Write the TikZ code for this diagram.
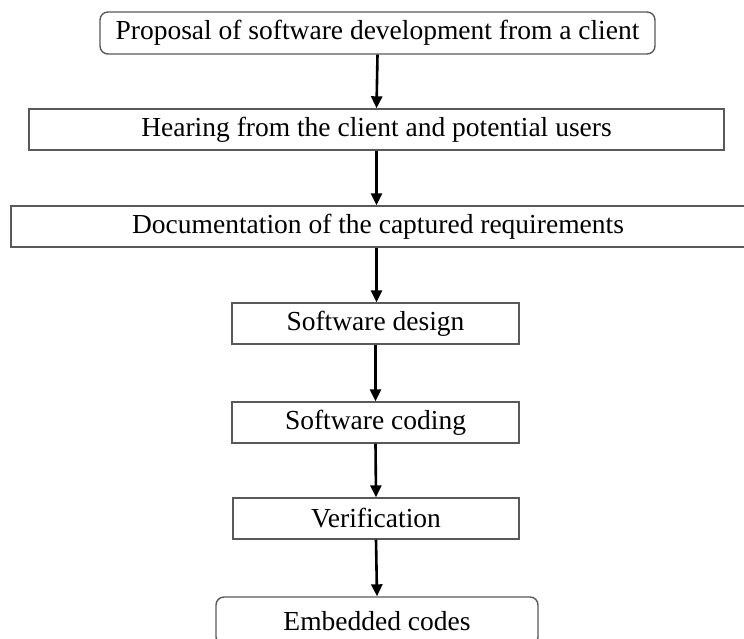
\documentclass[tikz,border=0pt]{standalone}
\usepackage{fontspec}
\setmainfont{Liberation Serif}
\usetikzlibrary{arrows.meta}

\tikzset{
  stage/.style={draw=black!65, line width=1.4pt, inner sep=0pt, align=center,
    font=\fontsize{27.5}{30}\selectfont},
  endpoint/.style={stage, rounded corners=8pt},
  flow/.style={line width=2.6pt, -{Triangle[width=11pt,length=12pt]}}
}

\begin{document}
\begin{tikzpicture}[x=1pt,y=-1pt]
  \useasboundingbox (0,0) rectangle (744,638);
  \clip (0,0) rectangle (744,638);

  \node[endpoint, minimum width=555pt, minimum height=42pt] (p) at (377.5,33)
    {Proposal of software development from a client};
  \node[stage, minimum width=695pt, minimum height=41pt] (h) at (376.5,129.5)
    {Hearing from the client and potential users};
  \node[stage, minimum width=734pt, minimum height=41pt] (d) at (378,226.5)
    {Documentation of the captured requirements};
  \node[stage, minimum width=287pt, minimum height=41pt] (sd) at (375.5,323.5)
    {Software design};
  \node[stage, minimum width=287pt, minimum height=41pt] (sc) at (375.5,422.5)
    {Software coding};
  \node[stage, minimum width=286pt, minimum height=41pt] (v) at (376,518.5)
    {Verification};
  \node[endpoint, minimum width=322pt, minimum height=48pt] (e) at (377,621)
    {Embedded codes};

  \draw[flow] (p.south) -- (h.north);
  \draw[flow] (h.south) -- (h.south |- d.north);
  \draw[flow] (h.south |- d.south) -- (h.south |- sd.north);
  \draw[flow] (sd.south) -- (sc.north);
  \draw[flow] (sc.south) -- (v.north);
  \draw[flow] (v.south) -- (e.north);
\end{tikzpicture}
\end{document}
